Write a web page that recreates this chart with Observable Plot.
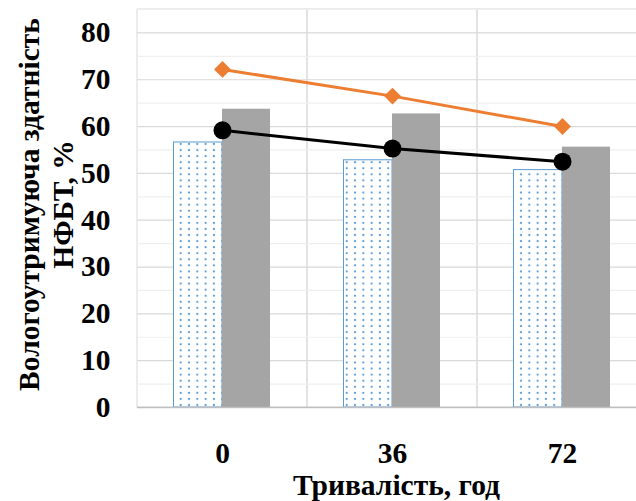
<!DOCTYPE html>
<html>
<head>
<meta charset="utf-8">
<script src="https://cdn.jsdelivr.net/npm/d3@7"></script>
<script src="https://cdn.jsdelivr.net/npm/@observablehq/plot@0.6"></script>
<style>
  html, body { margin: 0; padding: 0; background: white; overflow: hidden; }
  svg text { font-family: "Liberation Serif", "Times New Roman", "DejaVu Serif", serif !important; font-weight: bold; }
</style>
</head>
<body>
<div id="chart"></div>
<script>
const categories = ["0", "36", "72"];
const dottedValues = [56.6, 52.8, 50.7];
const grayValues = [63.7, 62.7, 55.6];
const orangeValues = [72.2, 66.5, 60.0];
const blackValues = [59.2, 55.3, 52.5];
const yTickValues = [0, 10, 20, 30, 40, 50, 60, 70, 80];
const majorGrid = [10, 20, 30, 40, 50, 60, 70, 80];
const minorGrid = [5, 15, 25, 35, 45, 55, 65, 75, 85];
const xTitle = "Тривалість, год";
const yTitle = "Вологоутримуюча здатність\nНФБТ, %";

const rows = (vals) => categories.map((c, i) => ({c, v: vals[i]}));

const defsMark = () => {
  const ns = "http://www.w3.org/2000/svg";
  const defs = document.createElementNS(ns, "defs");
  defs.innerHTML = `<pattern id="dots" patternUnits="userSpaceOnUse" width="8.3" height="6.07">
      <rect width="8.3" height="6.07" fill="white"/>
      <circle cx="6.4" cy="4.3" r="1.1" fill="#5b9bd5"/>
    </pattern>`;
  return defs;
};

const font = "'Liberation Serif', 'Times New Roman', serif";

const chart = Plot.plot({
  width: 636,
  height: 501,
  marginLeft: 137,
  marginRight: 0,
  marginTop: 9,
  marginBottom: 94,
  style: {fontFamily: font, fontSize: "29.5px", fontWeight: "bold", color: "black", background: "white"},
  x: {type: "band", domain: categories, range: [137, 647], padding: 0, tickSize: 0, tickPadding: 35, label: null},
  y: {domain: [0, 85], ticks: yTickValues, tickSize: 0, tickPadding: 27, label: null},
  marks: [
    defsMark,
    Plot.barY(categories, {x: d => d, y1: 0, y2: 85, fill: "none", stroke: "#d9d9d9", strokeWidth: 1}),
    Plot.ruleY(minorGrid, {stroke: "#efefef", strokeWidth: 1.2}),
    Plot.ruleY(majorGrid, {stroke: "#d9d9d9", strokeWidth: 1.2}),
    Plot.barY(rows(dottedValues), {x: "c", y: "v", fill: "url(#dots)", stroke: "#5b9bd5", strokeWidth: 1, insetLeft: 36.5, insetRight: 85}),
    Plot.barY(rows(grayValues), {x: "c", y: "v", fill: "#a5a5a5", insetLeft: 85, insetRight: 37}),
    Plot.ruleY([0], {stroke: "#bfbfbf", strokeWidth: 1.5}),
    Plot.line(rows(orangeValues), {x: "c", y: "v", stroke: "#ed7d31", strokeWidth: 3}),
    Plot.dot(rows(orangeValues), {x: "c", y: "v", fill: "#ed7d31", symbol: "diamond2", r: 7.6}),
    Plot.line(rows(blackValues), {x: "c", y: "v", stroke: "black", strokeWidth: 3}),
    Plot.dot(rows(blackValues), {x: "c", y: "v", fill: "black", r: 9}),
    Plot.text([xTitle], {frameAnchor: "bottom", textAnchor: "middle", lineAnchor: "middle", dy: 78, dx: 9.5, fontSize: 29.5, fontWeight: "bold", fill: "black"}),
    Plot.text([yTitle], {frameAnchor: "left", textAnchor: "middle", lineAnchor: "middle", rotate: -90, dx: -92.7, dy: -4, lineHeight: 1.15, fontSize: 29.5, fontWeight: "bold", fill: "black"})
  ]
});
document.getElementById("chart").append(chart);
</script>
</body>
</html>
